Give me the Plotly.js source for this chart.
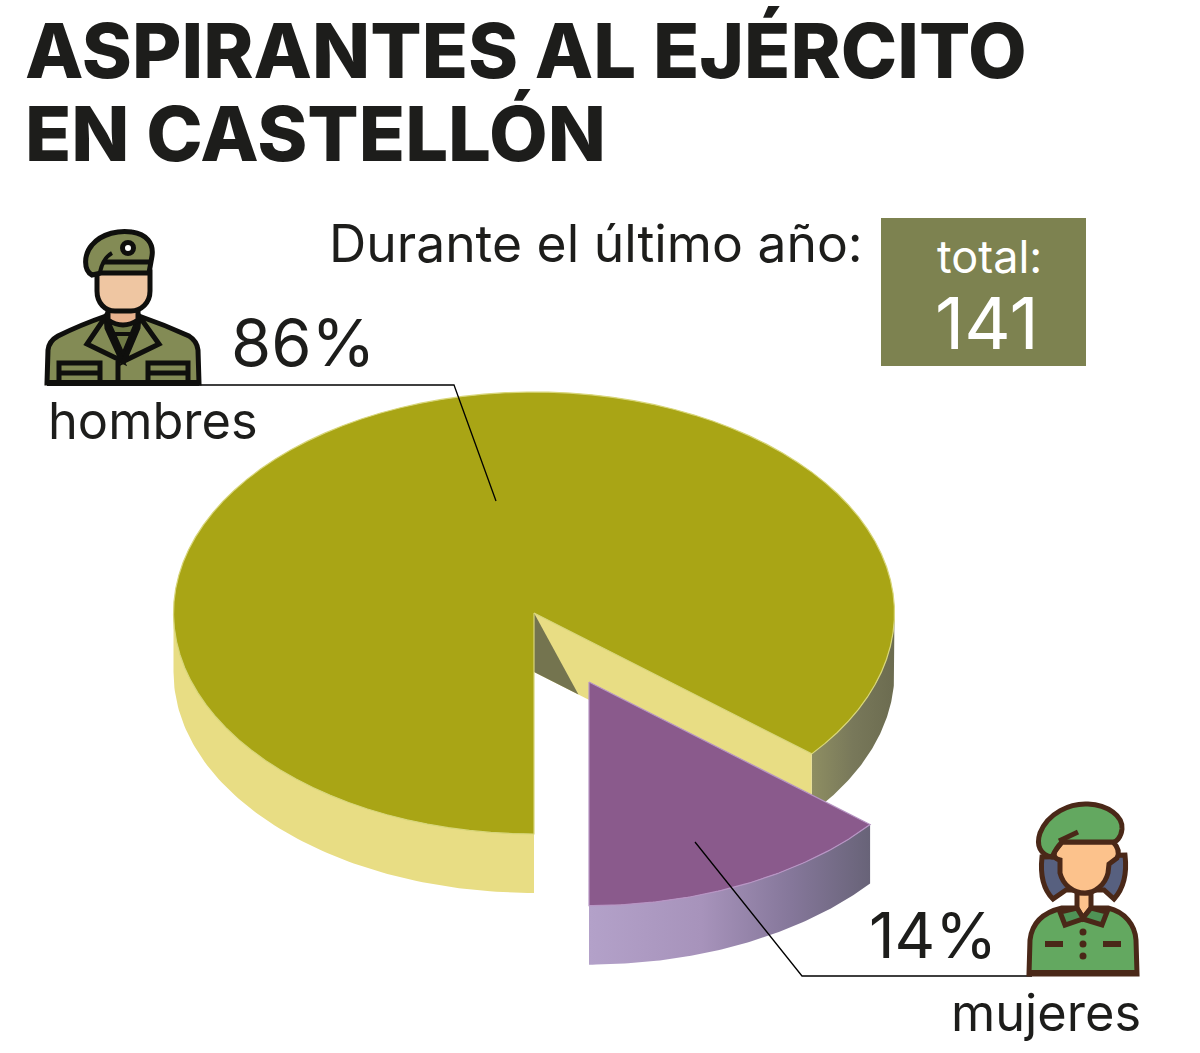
<!DOCTYPE html>
<html><head><meta charset="utf-8">
<script src="https://cdn.plot.ly/plotly-3.0.1.min.js"></script>
<style>html,body{margin:0;padding:0;background:#fff}#c{width:1200px;height:1053px}</style>
</head><body><div id="c"></div>
<script>
// Data
const categories = ['hombres', 'mujeres'];
const shares = [86, 14];
const total = 141;
const titleLines = ['ASPIRANTES AL EJÉRCITO', 'EN CASTELLÓN'];
const subtitle = 'Durante el último año:';
const totalLabel = 'total:';

// Projection of the tilted pie
const cx = 534, cy = 613, rx = 360.5, ry = 221, depth = 59, pullX = 55, pullY = 69, pullScale = 1.012;
const turn = 2 * Math.PI;
const cut = shares[1] / (shares[0] + shares[1]) * turn;
function pt(t, ox, oy, s) { s = s || 1; return [cx + (ox||0) + s * rx * Math.sin(t), cy + (oy||0) + s * ry * Math.cos(t)]; }
function arc(a, b, ox, oy, s) { const n = 90, r = []; for (let i = 0; i <= n; i++) r.push(pt(a + (b - a) * i / n, ox, oy, s)); return r; }
function poly(points, color, extra) {
  return Object.assign({
    type: 'scatter', mode: 'lines', fill: 'toself', fillcolor: color,
    x: points.map(p => p[0]), y: points.map(p => p[1]),
    line: {width: 0, color: color}, hoverinfo: 'skip', showlegend: false
  }, extra || {});
}
const grad = stops => ({type: 'horizontal', colorscale: stops});
const down = p => [p[0], p[1] + depth];
const apex = [cx, cy], end = pt(cut), apexLow = down(apex), endLow = down(end);

const traces = [];
// outer walls of the large slice
const wallL = arc(1.5 * Math.PI, turn);
traces.push(poly(wallL.concat(wallL.map(down).reverse()), '#e8dd84', {name: categories[0] + ' lateral'}));
const wallR = arc(cut, Math.PI / 2);
traces.push(poly(wallR.concat(wallR.map(down).reverse()), '#7c7c58', {fillgradient: grad([[0, '#8e8e62'], [0.5, '#78785a'], [1, '#6c6c50']]), name: categories[0] + ' lateral dcha'}));
// cut faces
traces.push(poly([apex, end, endLow, apexLow], '#e8dd84', {name: categories[0] + ' corte'}));
const f = 0.16;
traces.push(poly([apex, apexLow, [apexLow[0] + (endLow[0] - apexLow[0]) * f, apexLow[1] + (endLow[1] - apexLow[1]) * f]], '#74744f', {name: categories[0] + ' corte int'}));
// top of the large slice
traces.push(poly([apex].concat(arc(cut, turn)).concat([apex]), '#a9a515', {name: categories[0], line: {width: 1.2, color: '#d8d67a'}}));
// exploded slice
const pWall = arc(0, cut, pullX, pullY, pullScale);
traces.push(poly(pWall.concat(pWall.map(down).reverse()), '#9a88ac', {fillgradient: grad([[0, '#b3a1c9'], [0.4, '#a793bb'], [0.72, '#85779a'], [1, '#686378']]), name: categories[1] + ' lateral'}));
traces.push(poly([[cx + pullX, cy + pullY]].concat(pWall).concat([[cx + pullX, cy + pullY]]), '#8a5a8c', {name: categories[1], line: {width: 1.2, color: '#b795c4'}}));

// Icons (decorative pictograms)
const K = '#0f0f0d', B = '#4a2818';
function sh(path, fill, color, w) {
  return {type: 'path', path: path, xref: 'x', yref: 'y', layer: 'above', fillcolor: fill || 'rgba(0,0,0,0)', line: {color: color, width: w}};
}
function circ(x, y, r, fill, color, w) {
  return {type: 'circle', xref: 'x', yref: 'y', x0: x - r, x1: x + r, y0: y - r, y1: y + r, layer: 'above', fillcolor: fill, line: {color: color, width: w}};
}
const OL = '#838b55', SK = '#efc6a2', GR = '#63a860', SF = '#fcc28c';
const shapes = [
  // leader lines
  {type: 'path', path: 'M 198 385 L 454 385 L 496 501', xref: 'x', yref: 'y', line: {color: '#000', width: 1.3}, layer: 'above'},
  {type: 'path', path: 'M 695 842 L 802 976 L 1032 976', xref: 'x', yref: 'y', line: {color: '#000', width: 1.3}, layer: 'above'},
  // total box
  {type: 'rect', x0: 881, x1: 1086, y0: 218, y1: 366, xref: 'x', yref: 'y', fillcolor: '#7d8250', line: {width: 0}, layer: 'below'},
  // man: body
  sh('M 47 383 L 48 350 Q 49 341 58 336 Q 80 325 106 316 L 139 316 Q 165 325 189 336 Q 197 341 198 350 L 199 383 Z', OL, K, 5),
  sh('M 108 322 L 137 322 L 123 356 Z', '#6f7a45', K, 5),
  sh('M 108 334 L 137 334', null, K, 4),
  sh('M 106 316 L 87 344 L 122 361 L 107 328 Z', OL, K, 5),
  sh('M 139 316 L 159 344 L 124 361 L 138 328 Z', OL, K, 5),
  sh('M 118 361 L 118 383', null, K, 5),
  sh('M 59 383 L 59 363 L 100 363 L 100 383 M 59 373 L 100 373', null, K, 5),
  sh('M 148 383 L 148 363 L 188 363 L 188 383 M 148 373 L 188 373', null, K, 5),
  sh('M 47 383 L 199 383', null, K, 6),
  // man: neck and face
  sh('M 108 307 L 108 320 Q 123 330 138 320 L 138 307 Z', '#e8b28e', K, 5),
  sh('M 97 272 L 97 291 C 97 303 105 311 115 311 L 131 311 C 141 311 150 303 150 291 L 150 272 Z', SK, K, 5),
  // man: beret
  sh('M 92 275 C 83 270 84 254 92 245 C 102 233 120 230 132 232 C 146 234 154 243 152 256 L 149 273 L 101 273 Q 97 274 92 275 Z', OL, K, 5),
  sh('M 103 262 L 150 262', null, K, 5),
  sh('M 112 253 Q 103 258 100 272', null, K, 4),
  circ(128, 248, 5.5, '#ffffff', K, 5),
  // woman: hair
  sh('M 1042 857 C 1040 875 1044 890 1053 899 L 1066 890 L 1104 890 L 1114 899 C 1124 888 1127 872 1125 855 Z', '#57607f', B, 5),
  // woman: body
  sh('M 1029 974 L 1030 940 C 1032 922 1045 912 1062 908 L 1108 908 C 1125 912 1135 925 1136 940 L 1137 974 Z', GR, B, 5),
  sh('M 1077 893 L 1077 908 L 1083 918 L 1091 908 L 1091 893 Z', SF, B, 5),
  sh('M 1060 912 L 1065 925 L 1083 919 L 1102 925 L 1107 912 L 1091 908 L 1083 918 L 1077 908 Z', '#4f9356', B, 5),
  sh('M 1029 973 L 1137 973', null, B, 6),
  circ(1083, 932, 2.5, B, B, 2), circ(1083, 944, 2.5, B, B, 2), circ(1083, 956, 2.5, B, B, 2),
  sh('M 1045 944 L 1063 944 M 1103 944 L 1121 944', null, B, 6),
  // woman: face
  sh('M 1062 842 L 1113 842 Q 1121 850 1117 858 L 1109 864 L 1108 873 C 1105 885 1095 893 1085 893 C 1073 893 1063 885 1060 873 L 1060 860 Q 1052 858 1055 851 Z', SF, B, 5),
  // woman: beret
  sh('M 1052 857 C 1040 855 1036 845 1040 833 C 1048 813 1070 803 1088 804 C 1108 805 1123 816 1122 829 C 1121 838 1116 842 1113 842 L 1062 842 Q 1056 848 1052 857 Z', GR, B, 5),
  sh('M 1059 841 L 1078 832', null, B, 5)
];

function note(text, x, y, size, color, anchor, weight) {
  return {text: text, x: x, y: y, xref: 'x', yref: 'y', xanchor: anchor || 'left', yanchor: 'middle',
    showarrow: false, borderpad: 0, font: {family: 'Inter, sans-serif', size: size, color: color || '#1d1d1b', weight: weight || 400}};
}
const annotations = [
  note(subtitle, 328, 243, 51.6),
  note(totalLabel, 989, 256, 45, '#ffffff', 'center', 400),
  note(String(total), 987, 322, 72, '#ffffff', 'center', 400),
  note(shares[0] + '%', 230, 342, 65, '#1d1d1b', 'left', 400),
  note(categories[0], 47, 420, 50.5, '#1d1d1b', 'left', 400),
  note(shares[1] + '%', 868, 935, 63, '#1d1d1b', 'left', 400),
  note(categories[1], 950, 1012, 50.5, '#1d1d1b', 'left', 400)
];

const titleFirstBaseline = 78, titleLeading = 83, titleSize = 76;
const layout = {
  width: 1200, height: 1053, margin: {l: 0, r: 0, t: 0, b: 0},
  paper_bgcolor: '#ffffff', plot_bgcolor: '#ffffff', showlegend: false, hovermode: false,
  title: {text: titleLines.join('<br>'), x: 25 / 1200, xanchor: 'left', y: 1 - titleFirstBaseline / 1053, yanchor: 'top', xref: 'paper', yref: 'paper',
    font: {family: 'Inter, sans-serif', size: titleSize, color: '#1d1d1b', weight: 800}},
  xaxis: {range: [0, 1200], visible: false, fixedrange: true},
  yaxis: {range: [1053, 0], visible: false, fixedrange: true},
  shapes: shapes, annotations: annotations
};
Plotly.newPlot('c', traces, layout, {displayModeBar: false, staticPlot: true}).then(() => {
  // the reference sets its two title lines closer than the library's default leading
  const lines = document.querySelectorAll('.gtitle tspan.line');
  if (lines.length === 2) lines[1].setAttribute('dy', (titleLeading / titleSize) + 'em');
});
</script></body></html>
